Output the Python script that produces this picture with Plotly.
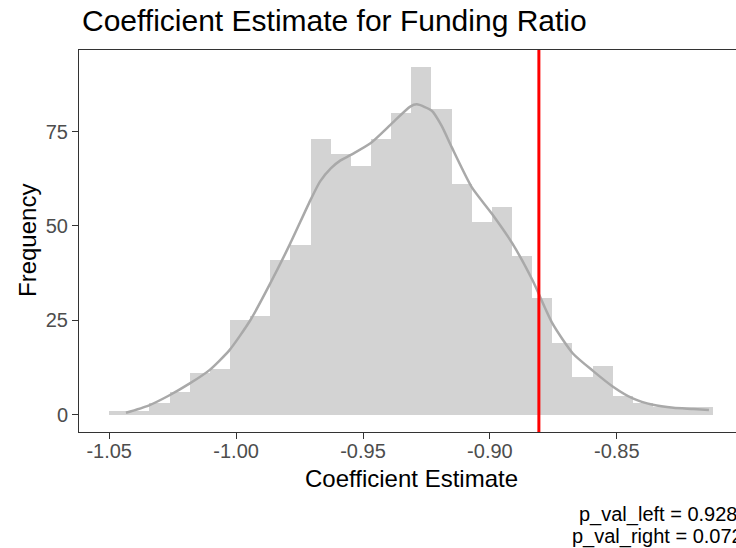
import plotly.graph_objects as go

# ---- data ----
bin_centers = [-1.04603, -1.03810, -1.03016, -1.02222, -1.01429, -1.00635,
               -0.99841, -0.99048, -0.98254, -0.97460, -0.96667, -0.95873,
               -0.95079, -0.94286, -0.93492, -0.92698, -0.91905, -0.91111,
               -0.90317, -0.89524, -0.88730, -0.87937, -0.87143, -0.86349,
               -0.85556, -0.84762, -0.83968, -0.83175, -0.82381, -0.81587]
bin_width = 0.007937
counts = [1, 1, 3, 6, 11, 12, 25, 26, 41, 45, 73, 69, 66, 73, 80,
          92, 81, 61, 51, 55, 42, 31, 19, 10, 13, 5, 3, 2, 2, 2]

curve_x = [-1.0434, -1.0345, -1.0266, -1.0184, -1.0105, -1.0026, -0.9944,
           -0.9866, -0.9787, -0.9708, -0.9669, -0.9626, -0.9590, -0.9548,
           -0.9472, -0.9390, -0.9314, -0.9288, -0.9229, -0.9190, -0.9150,
           -0.9071, -0.8992, -0.8911, -0.8832, -0.8753, -0.8673, -0.8594,
           -0.8515, -0.8437, -0.8358, -0.8277, -0.8198, -0.8137]
curve_y = [0.5, 2.4, 5.0, 8.2, 11.8, 17.1, 25.0, 34.7, 45.3, 56.7, 61.8,
           65.3, 67.3, 68.8, 71.8, 76.9, 81.6, 82.2, 80.5, 76.5, 70.8,
           60.2, 53.2, 45.3, 35.6, 24.1, 16.2, 11.6, 7.4, 4.3, 2.6, 1.8,
           1.5, 1.2]

observed_estimate = -0.8807

x_tick_vals = [-1.05, -1.00, -0.95, -0.90, -0.85]
x_tick_text = ["-1.05", "-1.00", "-0.95", "-0.90", "-0.85"]
y_tick_vals = [0, 25, 50, 75]
y_tick_text = ["0", "25", "50", "75"]

title_text = "Coefficient Estimate for Funding Ratio"
x_title = "Coefficient Estimate"
y_title = "Frequency"
caption_lines = ["p_val_left = 0.928", "p_val_right = 0.072"]

FONT = "Liberation Sans, Arial, Helvetica, sans-serif"

fig = go.Figure()
fig.add_trace(go.Bar(x=bin_centers, y=counts, width=bin_width,
                     marker=dict(color="#D3D3D3", line=dict(width=0)),
                     hoverinfo="skip", showlegend=False))
fig.add_trace(go.Scatter(x=curve_x, y=curve_y, mode="lines",
                         line=dict(color="#A9A9A9", width=2.5, shape="spline", smoothing=0.6),
                         hoverinfo="skip", showlegend=False))
fig.add_vline(x=observed_estimate, line=dict(color="#FF0000", width=3), layer="above")

W, H = 736, 548
ml, mr, mt, mb = 79, 0, 50, 116
pw, ph = W - ml - mr, H - mt - mb

def px_x(p):
    return (p - ml) / pw

def px_y(p):
    return (H - mb - p) / ph

annotations = [
    dict(text=title_text, xref="paper", yref="paper", x=px_x(80), y=px_y(20),
         xanchor="left", yanchor="middle", showarrow=False,
         font=dict(size=30, color="black", family=FONT)),
    dict(text=x_title, xref="paper", yref="paper", x=px_x(411), y=px_y(478),
         xanchor="center", yanchor="middle", showarrow=False,
         font=dict(size=24, color="black", family=FONT)),
    dict(text=y_title, xref="paper", yref="paper", x=px_x(27), y=px_y(241),
         xanchor="center", yanchor="middle", textangle=-90, showarrow=False,
         font=dict(size=24, color="black", family=FONT)),
]
for line_text, cy in zip(caption_lines, [514, 536.5]):
    annotations.append(dict(text=line_text, xref="paper", yref="paper",
                            x=px_x(657.5), y=px_y(cy), xanchor="center",
                            yanchor="middle", showarrow=False,
                            font=dict(size=20, color="black", family=FONT)))

fig.update_layout(
    width=W, height=H,
    margin=dict(l=ml, r=mr, t=mt, b=mb, pad=0),
    paper_bgcolor="white", plot_bgcolor="white",
    bargap=0, showlegend=False,
    font=dict(family=FONT, color="black"),
    xaxis=dict(range=[-1.0619, -0.80303], tickvals=x_tick_vals, ticktext=x_tick_text,
               showgrid=False, zeroline=False, showline=True, mirror=True,
               linecolor="#333333", linewidth=1, ticks="outside", ticklen=6,
               tickwidth=1, tickcolor="#333333", ticklabelstandoff=-5,
               tickfont=dict(size=20, color="#4D4D4D", family=FONT)),
    yaxis=dict(range=[-4.6, 96.6], tickvals=y_tick_vals, ticktext=y_tick_text,
               showgrid=False, zeroline=False, showline=True, mirror=False,
               linecolor="#333333", linewidth=1, ticks="outside", ticklen=6,
               tickwidth=1, tickcolor="#333333",
               tickfont=dict(size=20, color="#4D4D4D", family=FONT)),
    annotations=annotations,
)

fig.write_html("out.html", config={"displayModeBar": False})
